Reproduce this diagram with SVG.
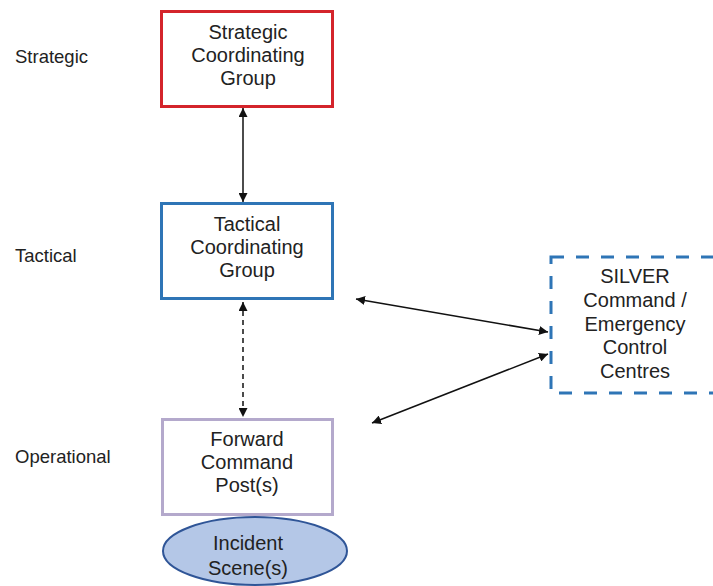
<svg xmlns="http://www.w3.org/2000/svg" width="713" height="586" viewBox="0 0 713 586">
  <style>
    .lbl { font-family: "Liberation Sans", Arial, sans-serif; font-size: 18.5px; fill: #222; }
    .txt { font-family: "Liberation Sans", Arial, sans-serif; font-size: 20px; fill: #222; text-anchor: middle; }
    .box { fill: #fff; stroke-width: 3; }
    .link { fill: none; stroke: #111; stroke-width: 1.5; marker-start: url(#head); marker-end: url(#head); }
  </style>
  <defs>
    <marker id="head" viewBox="0 0 10 10" refX="10" refY="5" markerWidth="9" markerHeight="9" markerUnits="userSpaceOnUse" orient="auto-start-reverse">
      <path d="M0,0 L10,5 L0,10 Z" fill="#111"/>
    </marker>
  </defs>
  <rect width="713" height="586" fill="#fff"/>

  <!-- level labels -->
  <g id="levels">
    <text class="lbl" x="15" y="63">Strategic</text>
    <text class="lbl" x="15" y="262">Tactical</text>
    <text class="lbl" x="15" y="463">Operational</text>
  </g>

  <!-- connectors -->
  <g id="connectors">
    <line class="link" x1="243" y1="108" x2="243" y2="202"/>
    <line class="link" x1="243" y1="302" x2="243" y2="417" stroke-dasharray="5 4"/>
    <line class="link" x1="356" y1="299" x2="548" y2="332"/>
    <line class="link" x1="548" y1="354" x2="372" y2="423"/>
  </g>

  <g id="strategic-group">
    <rect class="box" x="161.5" y="11.5" width="171" height="95" stroke="#d4242b"/>
    <text class="txt" x="248" y="39">Strategic</text>
    <text class="txt" x="248" y="62">Coordinating</text>
    <text class="txt" x="248" y="85">Group</text>
  </g>

  <g id="tactical-group">
    <rect class="box" x="161.5" y="203.5" width="171" height="95" stroke="#2e75b6"/>
    <text class="txt" x="247" y="231">Tactical</text>
    <text class="txt" x="247" y="254">Coordinating</text>
    <text class="txt" x="247" y="277">Group</text>
  </g>

  <g id="silver-command">
    <rect class="box" x="551" y="257" width="180" height="136" stroke="#2e75b6" stroke-dasharray="13 12"/>
    <text class="txt" x="635" y="283">SILVER</text>
    <text class="txt" x="635" y="307">Command /</text>
    <text class="txt" x="635" y="331">Emergency</text>
    <text class="txt" x="635" y="354">Control</text>
    <text class="txt" x="635" y="378">Centres</text>
  </g>

  <g id="forward-command">
    <rect class="box" x="162.5" y="419.5" width="170" height="95" stroke="#b4a9cc"/>
    <text class="txt" x="247" y="446">Forward</text>
    <text class="txt" x="247" y="469">Command</text>
    <text class="txt" x="247" y="492">Post(s)</text>
  </g>

  <g id="incident-scene">
    <ellipse cx="255" cy="551" rx="92" ry="34" fill="#b4c7e7" stroke="#2f5597" stroke-width="2"/>
    <text class="txt" x="248" y="550">Incident</text>
    <text class="txt" x="248" y="575">Scene(s)</text>
  </g>
</svg>
